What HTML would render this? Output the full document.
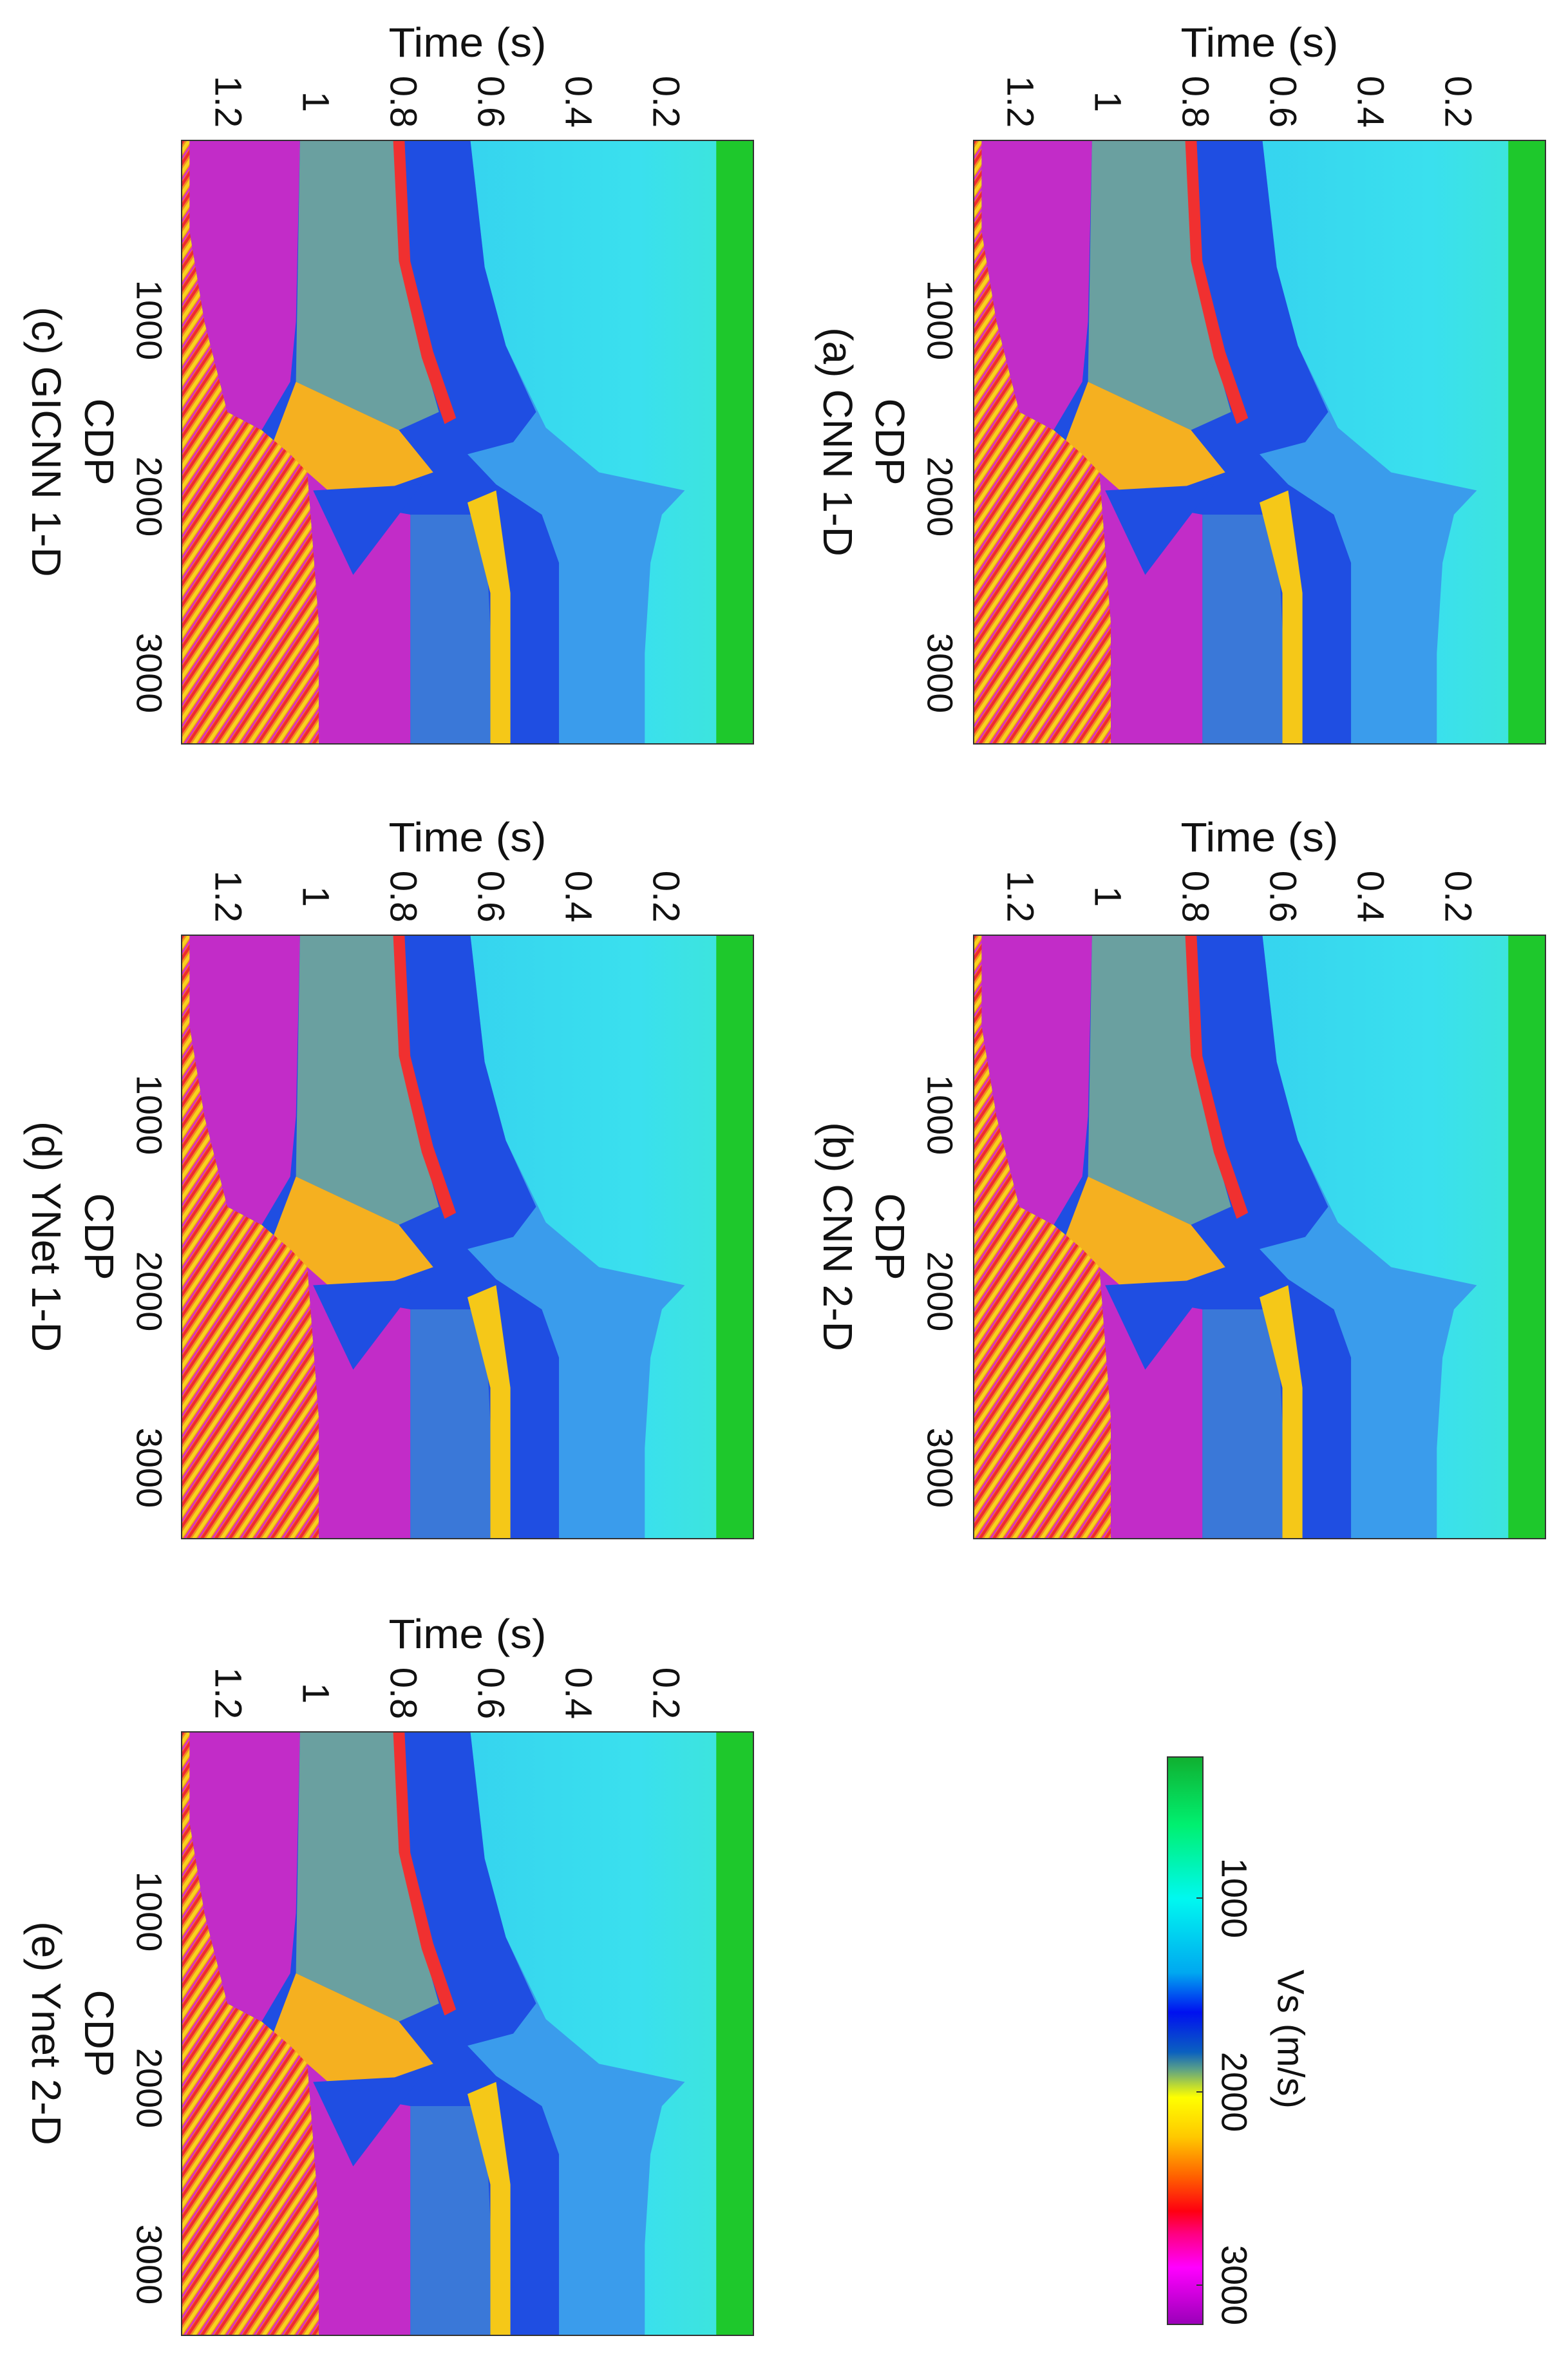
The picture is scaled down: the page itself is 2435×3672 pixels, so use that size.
<!DOCTYPE html>
<html><head><meta charset="utf-8"><style>
html,body{margin:0;padding:0;background:#fff;}
svg{display:block;}
text{font-family:"Liberation Sans",Arial,sans-serif;fill:#111;}
</style></head><body>
<svg width="2435" height="3672" viewBox="0 0 2435 3672" xmlns="http://www.w3.org/2000/svg">
<defs>
<pattern id="st" patternUnits="userSpaceOnUse" width="2" height="2" patternTransform="rotate(35)">
<rect width="2" height="2" fill="#f28a20"/>
<rect width="0.5" height="2" fill="#f02a30"/>
<rect x="0.8" width="0.6" height="2" fill="#f7d21e"/>
<rect x="1.6" width="0.3" height="2" fill="#d82ac8"/>
</pattern>
<linearGradient id="cy" x1="0" y1="0" x2="1" y2="0">
<stop offset="0" stop-color="#2fc0f0"/><stop offset="0.8" stop-color="#3ae0ee"/><stop offset="1" stop-color="#3ee6d6"/>
</linearGradient>
<linearGradient id="cb" x1="0" y1="1" x2="0" y2="0">
<stop offset="0" stop-color="#9a00b8"/>
<stop offset="0.1" stop-color="#ff00ff"/>
<stop offset="0.16" stop-color="#ff0080"/>
<stop offset="0.2" stop-color="#ff0010"/>
<stop offset="0.26" stop-color="#ff6000"/>
<stop offset="0.33" stop-color="#ffc800"/>
<stop offset="0.4" stop-color="#ffff00"/>
<stop offset="0.42" stop-color="#c0dc30"/>
<stop offset="0.45" stop-color="#5aa088"/>
<stop offset="0.48" stop-color="#0a60c0"/>
<stop offset="0.55" stop-color="#0010f0"/>
<stop offset="0.62" stop-color="#00a8f0"/>
<stop offset="0.75" stop-color="#00f8f0"/>
<stop offset="0.88" stop-color="#00f070"/>
<stop offset="1" stop-color="#10b030"/>
</linearGradient>
<g id="p">
<rect x="0" y="0" width="100" height="100" fill="url(#cy)"/>
<polygon fill="#3a9cec" points="0,0 50.5,0 53,21 56.7,34 63.7,47.6 73,55 88,58 84,62 82,70 81,85 81,100 0,100"/>
<polygon fill="#1f4ee2" points="0,0 50.5,0 53,21 56.7,34 62,45 58,50 50,52 55,57 63,62 66,70 66,100 0,100"/>
<polygon fill="#3a78d8" points="40,62 53,62 55,100 40,100"/>
<polygon fill="#6aa0a0" points="20.7,0 38,0 39,20 42,35 45,45 38,48 20,40"/>
<polygon fill="#f03030" points="37,0 39,0 40,20 44,35 48,46 46,47 42,36 38,20"/>
<polygon fill="#f5c818" points="50,60 55,58 57.5,75 57.5,100 54,100 54,75"/>
<polygon fill="#f5b020" points="20,40 38,48 44,55 35,58 24,58 16,50"/>
<polygon fill="url(#st)" points="0,0 1.4,0 1.4,15 4,30 8,45 14,48 19,52 22,55 24,80 24,100 0,100"/>
<polygon fill="#c22cc8" points="1.4,0 20.7,0 20,30 19,40 14,48 8,45 4,30 1.4,15"/>
<polygon fill="#c22cc8" points="22,55 28,60 40,62 40,100 24,100 24,80"/>
<polygon fill="#1f4ee2" points="23,58 42,57 30,72"/>
<rect x="93.5" y="0" width="6.5" height="100" fill="#1ec82c"/>
</g>
</defs>

<svg x="1512" y="218" width="888" height="937" viewBox="0 0 100 100" preserveAspectRatio="none"><use href="#p"/></svg>
<svg x="1512" y="1452" width="888" height="937" viewBox="0 0 100 100" preserveAspectRatio="none"><use href="#p"/></svg>
<svg x="282" y="218" width="888" height="937" viewBox="0 0 100 100" preserveAspectRatio="none"><use href="#p"/></svg>
<svg x="282" y="1452" width="888" height="937" viewBox="0 0 100 100" preserveAspectRatio="none"><use href="#p"/></svg>
<svg x="282" y="2689" width="888" height="937" viewBox="0 0 100 100" preserveAspectRatio="none"><use href="#p"/></svg>
<g fill="none" stroke="#333" stroke-width="2">
<rect x="1512" y="218" width="888" height="937"/>
<rect x="1512" y="1452" width="888" height="937"/>
<rect x="282" y="218" width="888" height="937"/>
<rect x="282" y="1452" width="888" height="937"/>
<rect x="282" y="2689" width="888" height="937"/>
</g>

<g font-size="58" text-anchor="middle" dominant-baseline="central">
<text transform="translate(2264,158) rotate(90)">0.2</text>
<text transform="translate(2128,158) rotate(90)">0.4</text>
<text transform="translate(1992,158) rotate(90)">0.6</text>
<text transform="translate(1856,158) rotate(90)">0.8</text>
<text transform="translate(1720,158) rotate(90)">1</text>
<text transform="translate(1584,158) rotate(90)">1.2</text>
<text transform="translate(1460,497) rotate(90)" font-size="56">1000</text>
<text transform="translate(1460,771) rotate(90)" font-size="56">2000</text>
<text transform="translate(1460,1045) rotate(90)" font-size="56">3000</text>
<text transform="translate(1382,686) rotate(90)" font-size="64">CDP</text>
<text transform="translate(1301,686) rotate(90)" font-size="64">(a) CNN 1-D</text>
<text transform="translate(2264,1392) rotate(90)">0.2</text>
<text transform="translate(2128,1392) rotate(90)">0.4</text>
<text transform="translate(1992,1392) rotate(90)">0.6</text>
<text transform="translate(1856,1392) rotate(90)">0.8</text>
<text transform="translate(1720,1392) rotate(90)">1</text>
<text transform="translate(1584,1392) rotate(90)">1.2</text>
<text transform="translate(1460,1731) rotate(90)" font-size="56">1000</text>
<text transform="translate(1460,2005) rotate(90)" font-size="56">2000</text>
<text transform="translate(1460,2279) rotate(90)" font-size="56">3000</text>
<text transform="translate(1382,1920) rotate(90)" font-size="64">CDP</text>
<text transform="translate(1301,1920) rotate(90)" font-size="64">(b) CNN 2-D</text>
<text transform="translate(1034,158) rotate(90)">0.2</text>
<text transform="translate(898,158) rotate(90)">0.4</text>
<text transform="translate(762,158) rotate(90)">0.6</text>
<text transform="translate(626,158) rotate(90)">0.8</text>
<text transform="translate(490,158) rotate(90)">1</text>
<text transform="translate(354,158) rotate(90)">1.2</text>
<text transform="translate(232,497) rotate(90)" font-size="56">1000</text>
<text transform="translate(232,771) rotate(90)" font-size="56">2000</text>
<text transform="translate(232,1045) rotate(90)" font-size="56">3000</text>
<text transform="translate(154,686) rotate(90)" font-size="64">CDP</text>
<text transform="translate(72,686) rotate(90)" font-size="64">(c) GICNN 1-D</text>
<text transform="translate(1034,1392) rotate(90)">0.2</text>
<text transform="translate(898,1392) rotate(90)">0.4</text>
<text transform="translate(762,1392) rotate(90)">0.6</text>
<text transform="translate(626,1392) rotate(90)">0.8</text>
<text transform="translate(490,1392) rotate(90)">1</text>
<text transform="translate(354,1392) rotate(90)">1.2</text>
<text transform="translate(232,1731) rotate(90)" font-size="56">1000</text>
<text transform="translate(232,2005) rotate(90)" font-size="56">2000</text>
<text transform="translate(232,2279) rotate(90)" font-size="56">3000</text>
<text transform="translate(154,1920) rotate(90)" font-size="64">CDP</text>
<text transform="translate(72,1920) rotate(90)" font-size="64">(d) YNet 1-D</text>
<text transform="translate(1034,2629) rotate(90)">0.2</text>
<text transform="translate(898,2629) rotate(90)">0.4</text>
<text transform="translate(762,2629) rotate(90)">0.6</text>
<text transform="translate(626,2629) rotate(90)">0.8</text>
<text transform="translate(490,2629) rotate(90)">1</text>
<text transform="translate(354,2629) rotate(90)">1.2</text>
<text transform="translate(232,2968) rotate(90)" font-size="56">1000</text>
<text transform="translate(232,3242) rotate(90)" font-size="56">2000</text>
<text transform="translate(232,3516) rotate(90)" font-size="56">3000</text>
<text transform="translate(154,3157) rotate(90)" font-size="64">CDP</text>
<text transform="translate(72,3157) rotate(90)" font-size="64">(e) Ynet 2-D</text>
<text transform="translate(1917,2947) rotate(90)" font-size="56">1000</text>
<text transform="translate(1917,3248) rotate(90)" font-size="56">2000</text>
<text transform="translate(1917,3548) rotate(90)" font-size="56">3000</text>
<text transform="translate(2004,3166) rotate(90)" font-size="58">Vs (m/s)</text>
</g>

<g font-size="64" text-anchor="middle">
<text x="1956" y="88" textLength="245" lengthAdjust="spacingAndGlyphs">Time (s)</text>
<text x="1956" y="1322" textLength="245" lengthAdjust="spacingAndGlyphs">Time (s)</text>
<text x="726" y="88" textLength="245" lengthAdjust="spacingAndGlyphs">Time (s)</text>
<text x="726" y="1322" textLength="245" lengthAdjust="spacingAndGlyphs">Time (s)</text>
<text x="726" y="2559" textLength="245" lengthAdjust="spacingAndGlyphs">Time (s)</text>
</g>

<rect x="1813" y="2728" width="55" height="881" fill="url(#cb)" stroke="#333" stroke-width="2"/>
<g stroke="#333" stroke-width="2">
<line x1="1858" y1="2947" x2="1868" y2="2947"/>
<line x1="1858" y1="3248" x2="1868" y2="3248"/>
<line x1="1858" y1="3548" x2="1868" y2="3548"/>
</g>
</svg>
</body></html>
